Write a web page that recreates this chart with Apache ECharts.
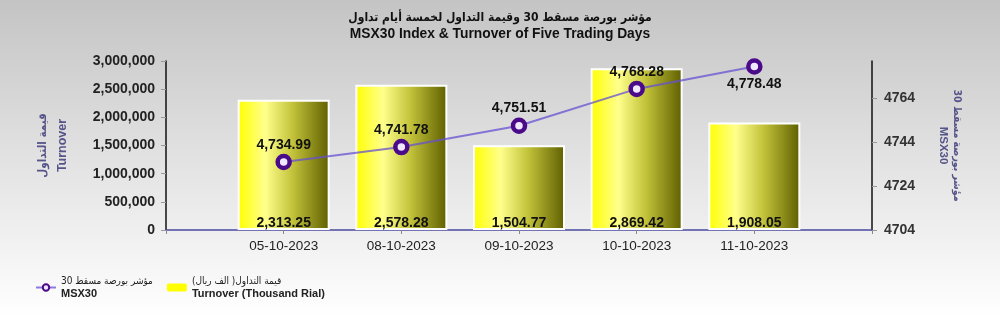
<!DOCTYPE html>
<html>
<head>
<meta charset="utf-8">
<script src="https://cdn.jsdelivr.net/npm/echarts@6/dist/echarts.min.js"></script>
<style>
  html, body { margin: 0; padding: 0; }
  #chart {
    width: 1000px;
    height: 317px;
    background: linear-gradient(to bottom, #c4c4c4 0%, #e2e2e2 50%, #ffffff 100%);
  }
</style>
</head>
<body>
<div id="chart"></div>
<script>
// empty slots at both ends keep the bars away from the axes
const dates = ["", "05-10-2023", "08-10-2023", "09-10-2023", "10-10-2023", "11-10-2023", ""];
const turnover = [null, 2313250, 2578280, 1504770, 2869420, 1908050, null];
const msx30 = [null, 4734.99, 4741.78, 4751.51, 4768.28, 4778.48, null];
const msxLabelPos = [null, "top", "top", "top", "top", "bottom", null];

const fontFamily = "Liberation Sans, Arial, DejaVu Sans, sans-serif";
const arabicFont = "DejaVu Sans Condensed, DejaVu Sans, sans-serif";
const chart = echarts.init(document.getElementById("chart"));

const fmt = (v, d) =>
  v.toLocaleString("en-US", { minimumFractionDigits: d, maximumFractionDigits: d });

const lineName = "مؤشر بورصة مسقط 30\nMSX30";
const barName = "قيمة التداول( الف ريال)\nTurnover (Thousand Rial)";

chart.setOption({
  textStyle: { fontFamily },
  animation: false,
  title: {
    text: "{ar|مؤشر بورصة مسقط 30 وقيمة التداول لخمسة أيام تداول}\n{en|MSX30 Index & Turnover of Five Trading Days}",
    left: "center",
    top: 4,
    textStyle: {
      rich: {
        ar: { fontFamily: arabicFont, fontSize: 12, fontWeight: "bold", color: "#111", lineHeight: 17, align: "center" },
        en: { fontFamily, fontSize: 13.8, fontWeight: "bold", color: "#111", lineHeight: 17, align: "center" },
      },
    },
  },
  legend: {
    left: 30,
    top: 271,
    itemGap: 14,
    itemWidth: 20,
    itemHeight: 8,
    formatter: (name) => {
      const [ar, en] = name.split("\n");
      return "{ar|" + ar + "}\n{en|" + en + "}";
    },
    textStyle: {
      rich: {
        ar: { fontFamily: arabicFont, fontSize: 10, color: "#222", lineHeight: 13 },
        en: { fontFamily, fontSize: 11, fontWeight: "bold", color: "#222", lineHeight: 13 },
      },
    },
    data: [
      { name: lineName },
      { name: barName, itemStyle: { color: "#ffff00", borderWidth: 0 } },
    ],
  },
  grid: { left: 166, right: 128, top: 61, bottom: 87 },
  xAxis: {
    type: "category",
    data: dates,
    boundaryGap: false,
    axisLine: { lineStyle: { color: "#4b4ba0", width: 1.5 } },
    axisTick: { alignWithLabel: true, lineStyle: { color: "#888" }, length: 4 },
    axisLabel: { color: "#222", fontSize: 13.5, margin: 9 },
  },
  yAxis: [
    {
      type: "value",
      min: 0,
      max: 3000000,
      interval: 500000,
      name: "{ar|قيمة التداول}\n{en|Turnover}",
      nameLocation: "middle",
      nameGap: 93,
      nameRotate: 90,
      nameTextStyle: {
        rich: {
          ar: { fontFamily: arabicFont, fontSize: 11.5, fontWeight: "bold", color: "#55558a", lineHeight: 20 },
          en: { fontFamily, fontSize: 12.5, fontWeight: "bold", color: "#55558a", lineHeight: 20 },
        },
      },
      axisLine: { show: true, lineStyle: { color: "#111", width: 1.5 } },
      axisTick: { show: true, lineStyle: { color: "#999" }, length: 5 },
      axisLabel: {
        color: "#222",
        fontSize: 14,
        fontWeight: "bold",
        margin: 11,
        formatter: (v) => fmt(v, 0),
      },
      splitLine: { show: false },
    },
    {
      type: "value",
      min: 4704,
      max: 4781,
      interval: 20,
      name: "{ar|مؤشر بورصة مسقط 30}\n{en|MSX30}",
      nameLocation: "middle",
      nameGap: 64,
      nameRotate: -90,
      nameTextStyle: {
        rich: {
          ar: { fontFamily: arabicFont, fontSize: 10.5, fontWeight: "bold", color: "#55558a", lineHeight: 14 },
          en: { fontFamily, fontSize: 11.5, fontWeight: "bold", color: "#55558a", lineHeight: 14 },
        },
      },
      axisLine: { show: true, lineStyle: { color: "#111", width: 1.5 } },
      axisTick: { show: true, lineStyle: { color: "#999" }, length: 5 },
      axisLabel: {
        color: "#333",
        fontSize: 14,
        fontWeight: "bold",
        margin: 12,
        showMaxLabel: false,
        formatter: (v) => String(v),
      },
      splitLine: { show: false },
    },
  ],
  series: [
    {
      name: barName,
      type: "bar",
      yAxisIndex: 0,
      barWidth: 92,
      data: turnover,
      itemStyle: {
        borderColor: "#ffffff",
        borderWidth: 2,
        color: new echarts.graphic.LinearGradient(0, 0, 1, 0, [
          { offset: 0, color: "#ffff00" },
          { offset: 0.3, color: "#ffff8c" },
          { offset: 0.6, color: "#c2c23a" },
          { offset: 1, color: "#5e5e00" },
        ]),
      },
      label: {
        show: true,
        position: "insideBottom",
        distance: 0,
        color: "#111",
        fontSize: 14,
        fontWeight: "bold",
        formatter: (p) => fmt(p.value / 1000, 2),
      },
    },
    {
      name: lineName,
      type: "line",
      yAxisIndex: 1,
      data: msx30.map((v, i) =>
        v == null ? null : { value: v, label: { position: msxLabelPos[i] } }
      ),
      lineStyle: { color: "rgba(100,80,210,0.75)", width: 2 },
      symbol: "circle",
      symbolSize: 12,
      itemStyle: { color: "#f0e8ff", borderColor: "#4a0a8a", borderWidth: 4.5 },
      label: {
        show: true,
        color: "#111",
        fontSize: 14,
        fontWeight: "bold",
        distance: 2,
        formatter: (p) => fmt(p.value, 2),
      },
      z: 5,
    },
  ],
});
</script>
</body>
</html>
